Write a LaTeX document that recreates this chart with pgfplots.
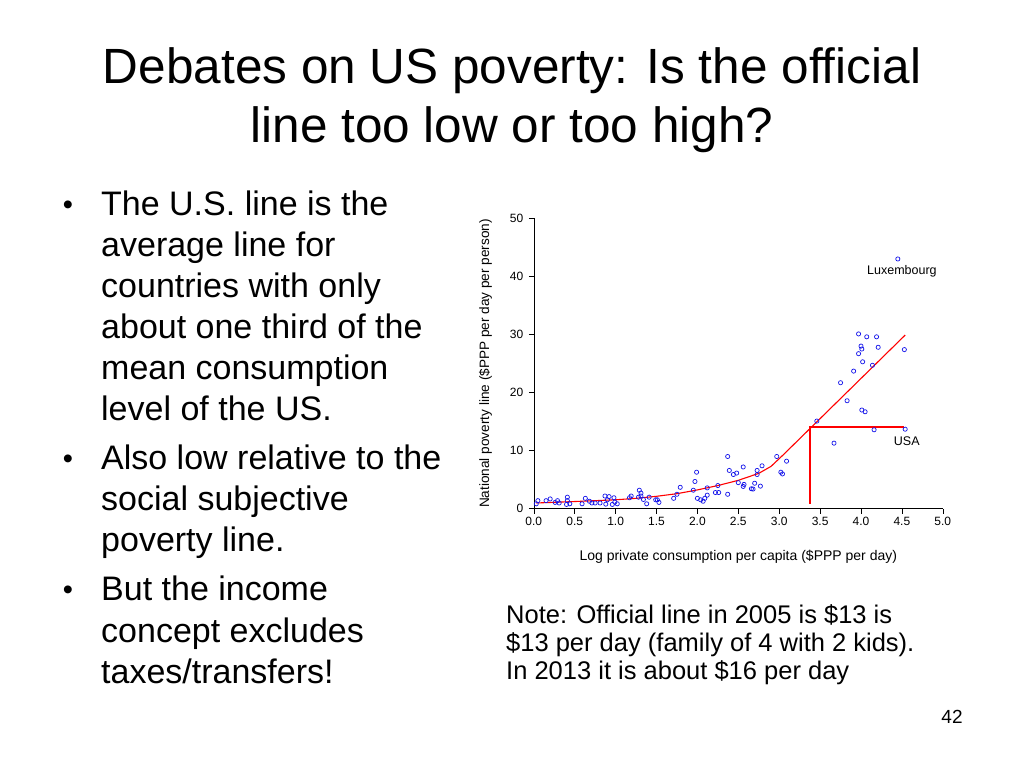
\documentclass[border=0pt]{standalone}
\usepackage{pgfplots}
\pgfplotsset{compat=1.18}
\usepackage{fontspec}
\setmainfont{Liberation Sans}
\begin{document}
\begin{tikzpicture}
\fill[white] (0pt,0pt) rectangle (1024pt,768pt);
\useasboundingbox (0pt,0pt) rectangle (1024pt,768pt);
% Title
\node[anchor=base,inner sep=0pt] at (512pt,684pt) {\fontsize{49.5}{49.5}\selectfont Debates on US poverty: Is the official};
\node[anchor=base,inner sep=0pt] at (512pt,625pt) {\fontsize{49.5}{49.5}\selectfont line too low or too high?};
% Bullets
\begin{scope}[every node/.style={anchor=base west,inner sep=0pt,font=\fontsize{34}{34}\selectfont}]
\node[anchor=base,font=\fontsize{29}{29}\selectfont] at (68pt,553pt) {\textbullet};
\node at (101pt,552pt) {The U.S. line is the};
\node at (101pt,511pt) {average line for};
\node at (101pt,470pt) {countries with only};
\node at (101pt,429pt) {about one third of the};
\node at (101pt,388pt) {mean consumption};
\node at (101pt,347pt) {level of the US.};
\node[anchor=base,font=\fontsize{29}{29}\selectfont] at (68pt,299pt) {\textbullet};
\node at (101pt,298pt) {Also low relative to the};
\node at (101pt,257pt) {social subjective};
\node at (101pt,216pt) {poverty line.};
\node[anchor=base,font=\fontsize{29}{29}\selectfont] at (68pt,168pt) {\textbullet};
\node at (101pt,167pt) {But the income};
\node at (101pt,126pt) {concept excludes};
\node at (101pt,85pt) {taxes/transfers!};
\end{scope}
% Note
\begin{scope}[every node/.style={anchor=base west,inner sep=0pt,font=\fontsize{25.5}{25.5}\selectfont}]
\node at (506pt,145pt) {Note: Official line in 2005 is \$13 is};
\node at (506pt,117pt) {\$13 per day (family of 4 with 2 kids).};
\node at (506pt,89pt) {In 2013 it is about \$16 per day};
\end{scope}
\node[anchor=base,inner sep=0pt] at (952pt,45pt) {\fontsize{19}{19}\selectfont 42};
% Plot
\begin{axis}[
  at={(533.8pt,259.2pt)}, anchor=south west,
  scale only axis, width=409pt, height=290.5pt,
  xmin=0, xmax=5, ymin=0, ymax=50,
  enlargelimits=false, clip=false,
  axis x line*=bottom, axis y line*=left,
  axis line style={black, line width=0.6pt},
  tick style={black, line width=0.6pt},
  tick align=outside, major tick length=5pt,
  xtick={0,0.5,...,5}, ytick={0,10,...,50},
  /pgf/number format/assume math mode=true,
  xticklabel style={/pgf/number format/fixed,/pgf/number format/fixed zerofill,/pgf/number format/precision=1,font=\fontsize{12}{12}\selectfont},
  yticklabel style={font=\fontsize{12}{12}\selectfont, xshift=-2pt},
  xlabel={Log private consumption per capita (\$PPP per day)},
  ylabel={National poverty line (\$PPP per day per person)},
  xlabel style={font=\fontsize{14}{14}\selectfont, at={(axis description cs:0.5,0)},anchor=center,yshift=-48pt},
  ylabel style={font=\fontsize{13.6}{13.6}\selectfont, at={(axis description cs:-0.118,0.5)},anchor=center},
]
\addplot[only marks, mark=o, mark size=2.1pt, mark options={line width=0.7pt}, color={rgb,255:red,20;green,20;blue,235}] table {
x y
0.03 0.86
0.05 1.4
0.15 1.4
0.20 1.7
0.26 1.1
0.29 1.4
0.31 1.0
0.41 2.0
0.41 1.4
0.40 0.75
0.44 0.86
0.59 0.86
0.63 1.8
0.68 1.3
0.71 1.0
0.75 1.0
0.81 1.0
0.87 2.2
0.88 0.8
0.90 1.55
0.92 2.1
0.96 0.75
0.98 1.9
0.99 1.15
1.02 0.86
1.17 1.9
1.19 2.2
1.29 3.2
1.31 2.7
1.31 2.2
1.28 2.0
1.34 1.6
1.38 0.86
1.41 2.0
1.49 1.55
1.51 1.55
1.53 1.1
1.71 1.8
1.75 2.5
1.79 3.7
1.95 3.2
1.97 4.7
1.99 6.3
2.00 1.8
2.04 1.55
2.07 1.3
2.09 1.8
2.12 2.35
2.12 3.6
2.22 2.8
2.26 2.8
2.25 4.0
2.37 2.5
2.37 9.0
2.39 6.6
2.44 5.9
2.48 6.15
2.50 4.5
2.56 3.85
2.57 4.2
2.56 7.2
2.66 3.45
2.68 3.4
2.70 4.4
2.73 6.6
2.73 5.9
2.77 3.9
2.79 7.4
2.97 9.0
3.02 6.3
3.04 6.0
3.09 8.2
3.46 15.1
3.67 11.3
3.75 21.7
3.83 18.6
3.91 23.7
3.97 30.1
3.97 26.7
4.00 28.0
4.01 27.5
4.02 25.3
4.01 17.0
4.05 16.7
4.07 29.6
4.14 24.7
4.16 13.6
4.19 29.6
4.21 27.8
4.45 43.0
4.53 27.4
4.54 13.7
};
\addplot[red, line width=1.1pt] coordinates {(0.03,1.0) (0.5,1.25) (1.0,1.55) (1.25,1.8) (1.5,2.15) (1.75,2.6) (2.0,3.25) (2.25,4.0) (2.5,4.9) (2.75,6.1) (2.9,7.3) (3.05,9.3) (4.54,29.9)};
\addplot[red, line width=2.2pt] coordinates {(3.38,0.9) (3.38,14.1) (4.53,14.1)};
\node[font=\fontsize{12.5}{12.5}\selectfont] at (axis cs:4.5,40.9) {Luxembourg};
\node[font=\fontsize{12.5}{12.5}\selectfont] at (axis cs:4.56,11.55) {USA};
\end{axis}
\end{tikzpicture}
\end{document}
